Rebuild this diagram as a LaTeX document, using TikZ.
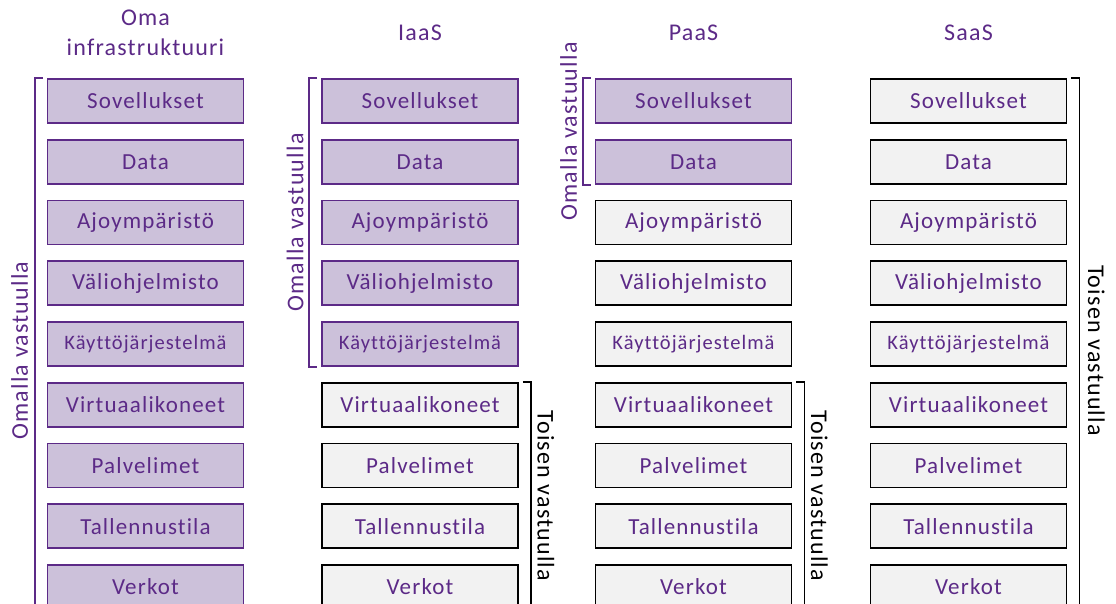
\documentclass[tikz,border=0pt]{standalone}
\usepackage{fontspec}
\setmainfont{Carlito}[Ligatures={NoCommon}, LetterSpace=5]
\usetikzlibrary{calc}
\definecolor{vio}{HTML}{5C2A87}
\definecolor{lav}{HTML}{CCC1DA}
\definecolor{pale}{HTML}{F2F2F2}
\tikzset{
  layer/.style={line width=1.9pt, minimum width=196pt, minimum height=44pt,
    inner sep=0pt, text=vio, font=\fontsize{23}{23}\selectfont},
  own/.style={layer, draw=vio, fill=lav},
  other/.style={layer, draw=black, fill=pale},
  head/.style={text=vio, font=\fontsize{24}{30}\selectfont, align=center},
  ownbr/.style={draw=vio, line width=1.9pt},
  othbr/.style={draw=black, line width=1.9pt},
  ownlab/.style={text=vio, rotate=90, inner sep=0pt, font=\fontsize{24}{24}\selectfont},
  othlab/.style={text=black, rotate=-90, inner sep=0pt, font=\fontsize{24}{24}\selectfont}
}
\begin{document}
\begin{tikzpicture}[x=1pt,y=1pt]
\useasboundingbox (0,0) rectangle (1116,-604);

% column headings
\node[head] (h1) at (145.5,-33) {Oma\\infrastruktuuri};
\node[head] (h2) at (420,-33) {IaaS};
\node[head] (h3) at (693.5,-33) {PaaS};
\node[head] (h4) at (968.5,-33) {SaaS};

% layer stacks: the first \n layers of each column are the user's own
\foreach \c/\x/\n in {1/145.5/9, 2/420/5, 3/693.5/2, 4/968.5/0} {
  \foreach \t [count=\r] in {Sovellukset,Data,Ajoympäristö,Väliohjelmisto,Käyttöjärjestelmä,Virtuaalikoneet,Palvelimet,Tallennustila,Verkot} {
    \ifnum\r>\n
      \node[other] (c\c r\r) at (\x,{-101-60.75*(\r-1)}) {\ifnum\r=5 \fontsize{20.5}{20.5}\selectfont\fi\t};
    \else
      \node[own] (c\c r\r) at (\x,{-101-60.75*(\r-1)}) {\ifnum\r=5 \fontsize{20.5}{20.5}\selectfont\fi\t};
    \fi
  }
}

% brackets
\coordinate (b1t) at ($(c1r1.north west)+(-12,0)$);
\coordinate (b1b) at ($(b1t)+(0,-545)$);
\draw[ownbr] ($(c1r1.north west)+(-4,0)$) -- (b1t) -- (b1b);
\node[ownlab] (l1) at ($(b1t)!0.5!(b1b)+(-15,0)$) {Omalla vastuulla};

\coordinate (b2t) at ($(c2r1.north west)+(-12,0)$);
\coordinate (b2b) at ($(c2r5.south west)+(-12,0)$);
\draw[ownbr] ($(c2r1.north west)+(-4,0)$) -- (b2t) -- (b2b) -- ($(c2r5.south west)+(-4,0)$);
\node[ownlab] (l2) at ($(b2t)!0.5!(b2b)+(-14,0)$) {Omalla vastuulla};

\coordinate (b3t) at ($(c2r6.north east)+(12,0)$);
\coordinate (b3b) at ($(b3t)+(0,-240)$);
\draw[othbr] ($(c2r6.north east)+(4,0)$) -- (b3t) -- (b3b);
\node[othlab] (l3) at ($(c2r6.north east)!0.5!(c2r9.south east)+(27,0)$) {Toisen vastuulla};

\coordinate (b4t) at ($(c3r1.north west)+(-12,0)$);
\coordinate (b4b) at ($(c3r2.south west)+(-12,0)$);
\draw[ownbr] ($(c3r1.north west)+(-4,0)$) -- (b4t) -- (b4b) -- ($(c3r2.south west)+(-4,0)$);
\node[ownlab] (l4) at ($(b4t)!0.5!(b4b)+(-14,0)$) {Omalla vastuulla};

\coordinate (b5t) at ($(c3r6.north east)+(12,0)$);
\coordinate (b5b) at ($(b5t)+(0,-240)$);
\draw[othbr] ($(c3r6.north east)+(4,0)$) -- (b5t) -- (b5b);
\node[othlab] (l5) at ($(c3r6.north east)!0.5!(c3r9.south east)+(27,0)$) {Toisen vastuulla};

\coordinate (b6t) at ($(c4r1.north east)+(12,0)$);
\coordinate (b6b) at ($(b6t)+(0,-545)$);
\draw[othbr] ($(c4r1.north east)+(4,0)$) -- (b6t) -- (b6b);
\node[othlab] (l6) at ($(b6t)!0.5!(b6b)+(17,0)$) {Toisen vastuulla};
\end{tikzpicture}
\end{document}
